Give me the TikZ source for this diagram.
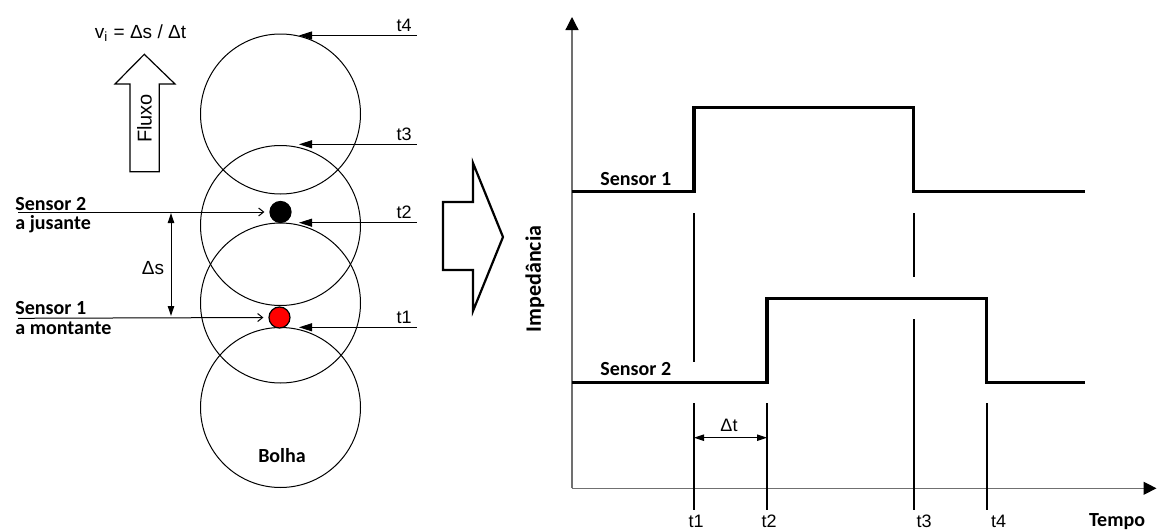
\documentclass[tikz,border=0pt]{standalone}
\usepackage{fontspec}
\setmainfont{Liberation Sans}
\newfontfamily\calib{Carlito}
\usepackage{tikz}
\usetikzlibrary{arrows.meta}
\definecolor{axisgray}{HTML}{707070}
\definecolor{sensred}{HTML}{FF0000}
\tikzset{
  lbl/.style={font=\calib\bfseries\fontsize{10}{12}\selectfont,inner sep=0pt},
  txt/.style={font=\fontsize{9}{11}\selectfont,inner sep=0pt},
  bubble/.style={line width=.5pt},
  timein/.style={line width=.5pt,-{Triangle[length=6.5pt,width=4pt]}},
  sensin/.style={line width=.5pt,-{Straight Barb[length=2.5pt,width=4pt]}},
  dimarr/.style={line width=.5pt,{Triangle[length=5pt,width=3.2pt]}-{Triangle[length=5pt,width=3.2pt]}},
  signal/.style={line width=1.6pt,line join=miter},
  tickln/.style={line width=1pt},
  axisln/.style={axisgray,line width=.6pt,-{Triangle[length=6.5pt,width=6.5pt,color=black]}},
  sensdot/.style={circle,draw=black,line width=.6pt,inner sep=0pt,minimum size=10.5pt}
}
\begin{document}
\begin{tikzpicture}[x=.5pt,y=-.5pt]
  \useasboundingbox (0,0) rectangle (1157,530);

  % bolhas subindo
  \foreach \cy in {407.5,303,225.5,114}
    \draw[bubble] (280.5,\cy) circle[radius=80];
  \node[lbl] (bolha) at (282,455.5) {Bolha};

  % sensores
  \node[sensdot,fill=black] (s2) at (280.5,212) {};
  \node[sensdot,fill=sensred] (s1) at (279.5,317.5) {};
  \coordinate (s2in) at (18,212);
  \coordinate (s1in) at (18,318.3);
  \draw[sensin,shorten >=2.5pt] (s2in) -- (s2.west);
  \draw[sensin,shorten >=2.5pt] (s1in) -- (s1.west);
  \node[lbl,anchor=base west] (s2a) at (15,210) {Sensor 2};
  \node[lbl,anchor=base west] (s2b) at (15,229) {a jusante};
  \node[lbl,anchor=base west] (s1a) at (15,314) {Sensor 1};
  \node[lbl,anchor=base west] (s1b) at (15,334) {a montante};

  % distancia entre sensores
  \coordinate (ds1) at (171,213);
  \coordinate (ds2) at (171,316);
  \draw[dimarr] (ds1) -- (ds2);
  \node[txt,font=\fontsize{9.5}{11}\selectfont] (dslab) at (153,268) {Δs};

  % instantes de passagem
  \foreach \yy/\nm in {35.5/4,144.3/3,222.7/2,327.3/1}{
    \coordinate (tr\nm) at (416.7,\yy);
    \coordinate (tt\nm) at (299,\yy);
    \draw[timein] (tr\nm) -- (tt\nm);
    \node[txt,anchor=base east] (tl\nm) at (412,\yy-4) {t\nm};
  }

  % velocidade e fluxo
  \node[txt,font=\fontsize{9.5}{11}\selectfont] (vel) at (140.5,33) {v\textsubscript{i} = Δs / Δt};
  \draw[line width=.6pt,line join=miter] (130,171.7) -- (130,84) -- (115,84) -- (144.3,54.3)
      -- (175,84) -- (159.3,84) -- (159.3,171.7) -- cycle;
  \node[txt,font=\fontsize{10}{12}\selectfont,rotate=90] (fluxo) at (144.5,118.5) {Fluxo};

  % seta grande
  \draw[line width=1.1pt,line join=miter] (443,202) -- (473,202) -- (473,163) -- (503,237)
      -- (473,311) -- (473,270) -- (443,270) -- cycle;

  % eixos
  \coordinate (orig) at (572,488.3);
  \coordinate (ytop) at (572,17);
  \coordinate (xend) at (1156.5,488.3);
  \draw[axisln] (orig) -- (ytop);
  \draw[axisln] (orig) -- (xend);
  \node[lbl,font=\calib\bfseries\fontsize{11}{13}\selectfont,rotate=90] (imp) at (535,279) {Impedância};
  \node[lbl,anchor=base] (tempo) at (1117,526) {Tempo};

  % sinais
  \draw[signal] (572,191.7) -| (694,107.7) -| (913.7,191.7) -- (1085,191.7);
  \draw[signal] (572,382.7) -| (767,382.7) -- (767,298.3) -| (986.7,382.7) -- (1085,382.7);
  \node[lbl,anchor=base west] (sig1) at (600,185.7) {Sensor 1};
  \node[lbl,anchor=base west] (sig2) at (600,375) {Sensor 2};

  % marcas de tempo
  \draw[tickln] (694,213) -- (694,361.7) (694,403) -- (694,510);
  \draw[tickln] (767,403) -- (767,510);
  \draw[tickln] (913.7,213) -- (913.7,276.7) (913.7,319) -- (913.7,510);
  \draw[tickln] (986.7,403) -- (986.7,510);
  \foreach \xx/\nm in {696/1,769/2,924/3,998.5/4}
    \node[txt,anchor=base] (tx\nm) at (\xx,527.5) {t\nm};

  % intervalo entre sensores
  \coordinate (dt1) at (694,437.7);
  \coordinate (dt2) at (767,437.7);
  \draw[dimarr] (dt1) -- (dt2);
  \node[txt,anchor=base] (dtlab) at (729,431.5) {Δt};
\end{tikzpicture}
\end{document}
